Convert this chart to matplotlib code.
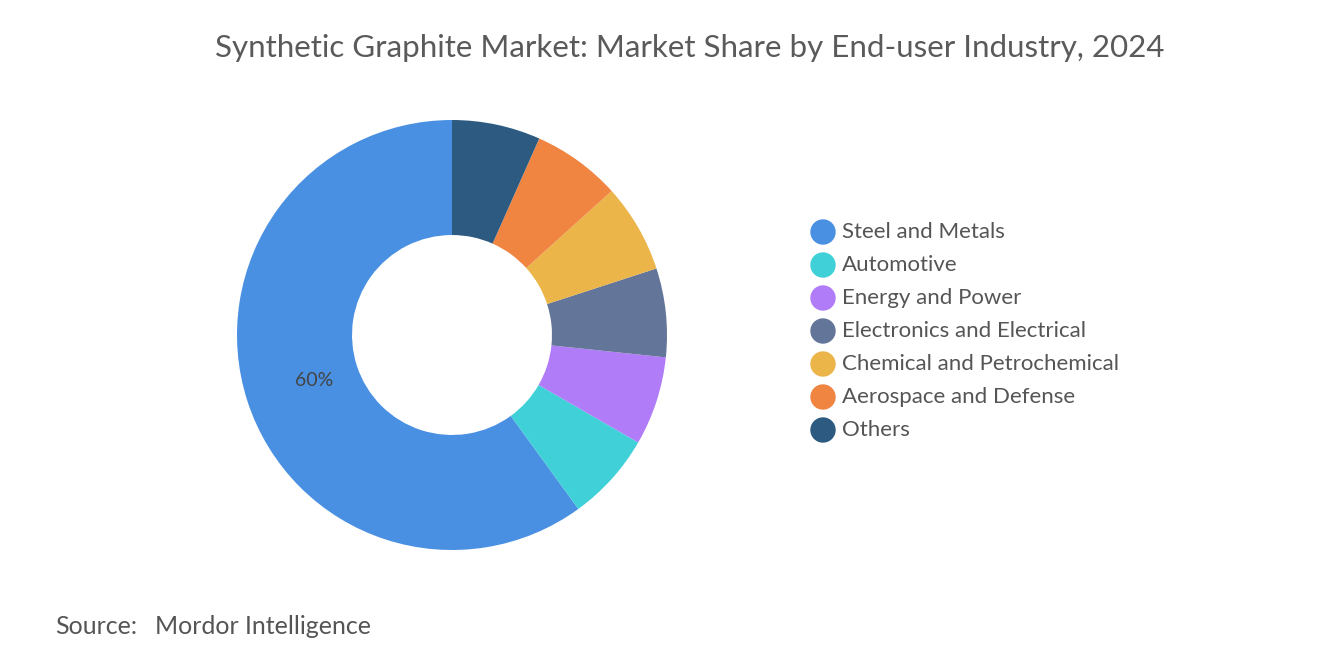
import matplotlib
matplotlib.use("Agg")
import matplotlib.pyplot as plt

categories = ["Steel and Metals", "Automotive", "Energy and Power", "Electronics and Electrical",
              "Chemical and Petrochemical", "Aerospace and Defense", "Others"]
shares = [60, 6.67, 6.67, 6.67, 6.67, 6.67, 6.65]
colors = ["#4A90E2", "#3FD0D8", "#B07CF7", "#637699", "#EBB54A", "#F08441", "#2D5A80"]

W, H = 1320, 665
fig = plt.figure(figsize=(W/100, H/100), dpi=100)
plt.rcParams["font.family"] = "Lato"

ax = fig.add_axes([237/W, 1-550/H, 430/W, 430/H])
ax.pie(shares, colors=colors, startangle=90, counterclock=True,
       wedgeprops=dict(width=0.535, linewidth=0))
ax.set_xlim(-1, 1)
ax.set_ylim(-1, 1)
ax.set_aspect("equal")
ax.text(-0.64, -0.21, "60%", ha="center", va="center", fontsize=14, color="#444444")

fig.text(690/W, 1-48/H, "Synthetic Graphite Market: Market Share by End-user Industry, 2024",
         ha="center", va="center", fontsize=22.5, color="#5a5a5a")

for i, (c, col) in enumerate(zip(categories, colors)):
    y = 1-(232+33*i)/H
    fig.patches.append(matplotlib.patches.Ellipse((823/W, y), 24/W, 24/H, color=col,
                                                  transform=fig.transFigure))
    fig.text(842/W, y, c, ha="left", va="center", fontsize=16, color="#555555")

fig.text(55/W, 1-627/H, "Source:", ha="left", va="center", fontsize=18, color="#555555")
fig.text(155/W, 1-627/H, "Mordor Intelligence", ha="left", va="center", fontsize=18, color="#555555")

fig.savefig("out.png", dpi=100)
